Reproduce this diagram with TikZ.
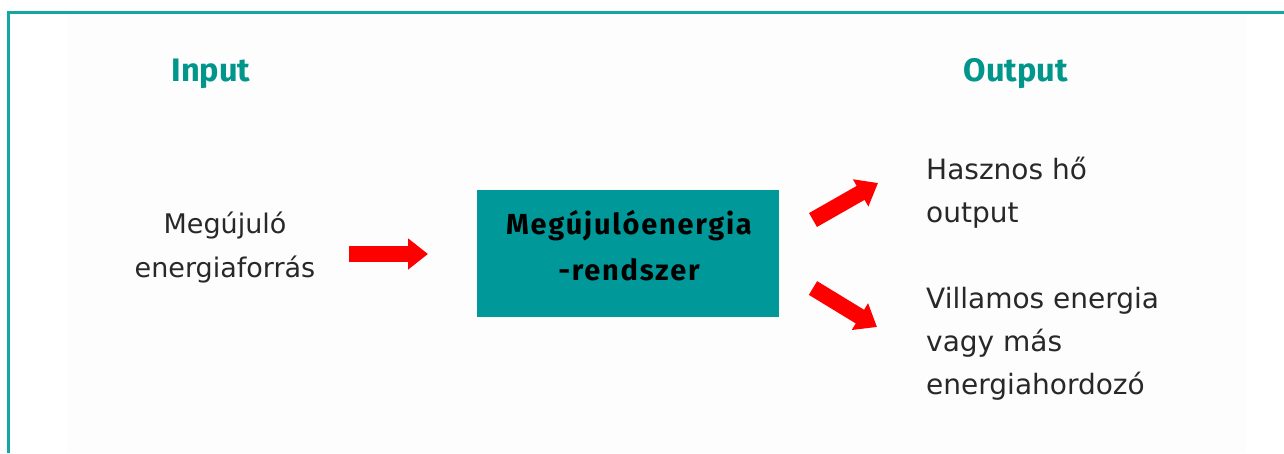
\documentclass[tikz,border=0pt]{standalone}
\usepackage{fontspec}
\setmainfont{DejaVu Sans}
\newfontfamily\titlefont{Fira Sans}
\usetikzlibrary{arrows.meta}
\definecolor{frameteal}{RGB}{20,165,165}
\definecolor{boxteal}{RGB}{0,152,152}
\definecolor{titleteal}{RGB}{0,150,140}
\definecolor{bodytext}{RGB}{40,40,40}
\definecolor{arrowred}{RGB}{255,0,0}
\definecolor{panel}{RGB}{253,253,253}
\tikzset{
  title/.style={font=\titlefont\bfseries\fontsize{32.5}{38}\selectfont, text=titleteal, inner sep=0pt},
  body/.style={font=\fontsize{27}{44}\selectfont, text=bodytext, align=left, inner sep=0pt},
  bodyr/.style={font=\fontsize{28}{43}\selectfont, text=bodytext, align=left, inner sep=0pt},
  sysbox/.style={fill=boxteal, draw=none, minimum width=302pt, minimum height=127pt, inner sep=0pt},
  systext/.style={font=\titlefont\bfseries\fontsize{29}{46}\selectfont, align=center, text=black, inner sep=0pt},
  bigarrow/.style={draw=arrowred, line width=16pt, -{Triangle[length=20pt,width=30pt]}}
}
\begin{document}
\begin{tikzpicture}[x=1pt,y=-1pt]
\useasboundingbox (0,0) rectangle (1284,453);
\fill[white] (0,0) rectangle (1284,453);
\fill[panel] (67,13) rectangle (1246,453);
\draw[frameteal, line width=3pt] (8,453) -- (8,12) -- (1284,12);
\node[title] (in) at (211,74) {Input};
\node[title] (out) at (1016,74) {Output};
\node[body, align=center] (src) at (225,248) {Megújuló\\energiaforrás};
\node[sysbox] (sys) at (627.5,253.5) {};
\node[systext] (systxt) at (629,246) {\addfontfeature{LetterSpace=6}Megújulóenergia\\\addfontfeature{LetterSpace=6}-rendszer};
\node[bodyr, anchor=west] (heat) at (926,193) {Hasznos hő\\output};
\node[bodyr, anchor=west] (elec) at (926,344) {Villamos energia\\vagy más\\energiahordozó};
\coordinate (a1s) at (349,254);
\coordinate (a1e) at (428,254);
\coordinate (a2s) at (813,220);
\coordinate (a2e) at (878,183);
\coordinate (a3s) at (813,288);
\coordinate (a3e) at (877,327);
\draw[bigarrow] (a1s) -- (a1e);
\draw[bigarrow] (a2s) -- (a2e);
\draw[bigarrow] (a3s) -- (a3e);
\end{tikzpicture}
\end{document}
